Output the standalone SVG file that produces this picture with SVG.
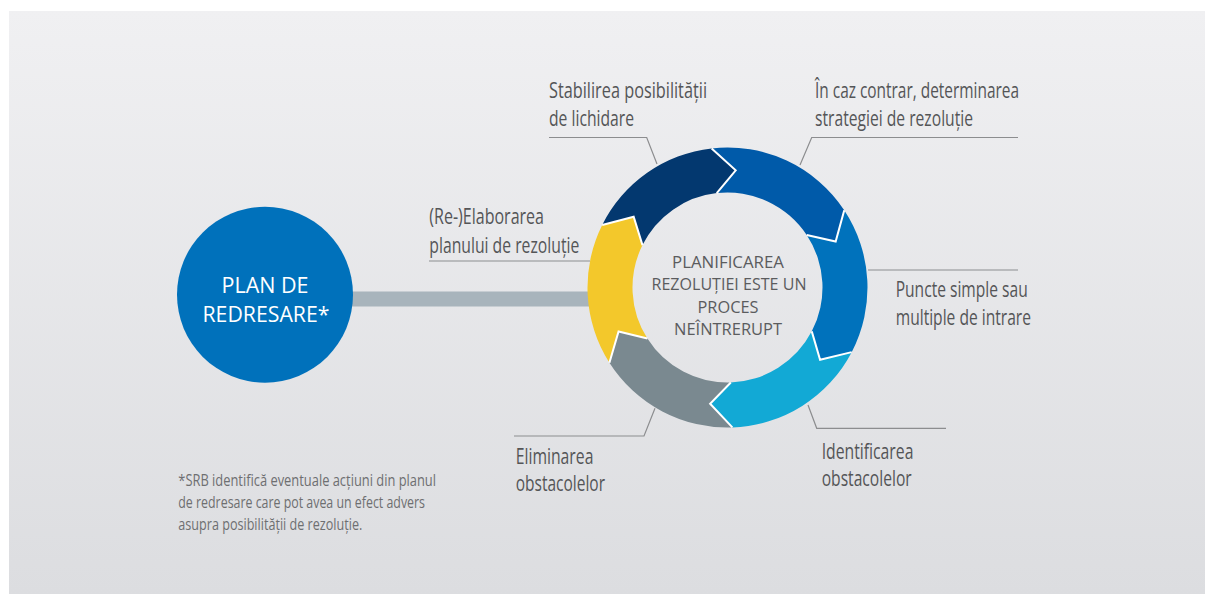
<svg xmlns="http://www.w3.org/2000/svg" width="1205" height="594" viewBox="0 0 1205 594">
<defs>
<linearGradient id="bg" x1="0" y1="0" x2="0" y2="1">
<stop offset="0" stop-color="#f0f0f2"/>
<stop offset="1" stop-color="#dcdde0"/>
</linearGradient>
<style>
.lbl{font-family:"Open Sans","Liberation Sans",sans-serif;font-size:21px;fill:#545557}
.ctr{font-family:"Open Sans","Liberation Sans",sans-serif;font-size:17px;fill:#5b5c5e;text-anchor:middle}
.plan{font-family:"Open Sans","Liberation Sans",sans-serif;font-size:21px;fill:#ffffff;text-anchor:middle}
.note{font-family:"Open Sans","Liberation Sans",sans-serif;font-size:17px;fill:#6e6f71}
.lead{fill:none;stroke:#8c8d8f;stroke-width:1.2}
.sep{fill:none;stroke:#ffffff;stroke-width:2;stroke-linejoin:miter}
</style>
</defs>
<rect x="0" y="0" width="1205" height="594" fill="#ffffff"/>
<rect x="9" y="11" width="1196" height="583" fill="url(#bg)"/>

<g id="connectors">
<rect x="350" y="291.5" width="250" height="15" fill="#a8b4bc"/>
<path class="lead" d="M549 137.5 H646.7 L657 164"/>
<path class="lead" d="M1018 137.5 H811.7 L800 165"/>
<path class="lead" d="M868 270 H1018"/>
<path class="lead" d="M808 405 L816.7 428.3 H946"/>
<path class="lead" d="M655 408.3 L644 436 H514"/>
<path class="lead" d="M429 261 H590"/>
</g>

<g id="plan-redresare">
<circle cx="265" cy="294.7" r="88" fill="#0071bb"/>
<text class="plan" x="265" y="293.3" textLength="87" lengthAdjust="spacingAndGlyphs">PLAN DE</text>
<text class="plan" x="266" y="321.7" textLength="127" lengthAdjust="spacingAndGlyphs">REDRESARE*</text>
</g>

<g id="cycle">
<path id="seg-lichidare" fill="#03386f" d="M 602.21 225.03 A 140 140 0 0 1 711.65 148.40 L 735.70 170.28 L 716.75 193.11 A 95 95 0 0 0 642.48 245.11 L 633.66 216.79 Z"/>
<path id="seg-strategie" fill="#005aa9" d="M 711.65 148.40 A 140 140 0 0 1 844.25 210.23 L 835.66 241.59 L 806.72 235.07 A 95 95 0 0 0 716.75 193.11 L 735.70 170.28 Z"/>
<path id="seg-puncte" fill="#0072bc" d="M 844.25 210.23 A 140 140 0 0 1 851.68 352.14 L 820.09 359.84 L 811.77 331.36 A 95 95 0 0 0 806.72 235.07 L 835.66 241.59 Z"/>
<path id="seg-identificare" fill="#12a9d5" d="M 851.68 352.14 A 140 140 0 0 1 732.39 427.41 L 710.13 403.71 L 730.82 382.44 A 95 95 0 0 0 811.77 331.36 L 820.09 359.84 Z"/>
<path id="seg-eliminare" fill="#7a8990" d="M 732.39 427.41 A 140 140 0 0 1 609.42 362.72 L 618.55 331.52 L 647.38 338.54 A 95 95 0 0 0 730.82 382.44 L 710.13 403.71 Z"/>
<path id="seg-elaborare" fill="#f3c82b" d="M 609.42 362.72 A 140 140 0 0 1 602.21 225.03 L 633.66 216.79 L 642.48 245.11 A 95 95 0 0 0 647.38 338.54 L 618.55 331.52 Z"/>
<polyline class="sep" points="711.65,148.40 735.70,170.28 716.75,193.11"/>
<polyline class="sep" points="844.25,210.23 835.66,241.59 806.72,235.07"/>
<polyline class="sep" points="851.68,352.14 820.09,359.84 811.77,331.36"/>
<polyline class="sep" points="732.39,427.41 710.13,403.71 730.82,382.44"/>
<polyline class="sep" points="609.42,362.72 618.55,331.52 647.38,338.54"/>
<polyline class="sep" points="602.21,225.03 633.66,216.79 642.48,245.11"/>
</g>

<g id="center-text">
<text class="ctr" x="728" y="268" textLength="112" lengthAdjust="spacingAndGlyphs">PLANIFICAREA</text>
<text class="ctr" x="729" y="290" textLength="155" lengthAdjust="spacingAndGlyphs">REZOLUȚIEI ESTE UN</text>
<text class="ctr" x="728" y="312.5" textLength="61" lengthAdjust="spacingAndGlyphs">PROCES</text>
<text class="ctr" x="728" y="335" textLength="108" lengthAdjust="spacingAndGlyphs">NEÎNTRERUPT</text>
</g>

<g id="label-lichidare">
<text class="lbl" x="549" y="98" textLength="158" lengthAdjust="spacingAndGlyphs">Stabilirea posibilității</text>
<text class="lbl" x="549" y="126" textLength="85" lengthAdjust="spacingAndGlyphs">de lichidare</text>
</g>
<g id="label-strategie">
<text class="lbl" x="815" y="98" textLength="204" lengthAdjust="spacingAndGlyphs">În caz contrar, determinarea</text>
<text class="lbl" x="815" y="126" textLength="158" lengthAdjust="spacingAndGlyphs">strategiei de rezoluție</text>
</g>
<g id="label-elaborare">
<text class="lbl" x="429.3" y="224.3" textLength="114.7" lengthAdjust="spacingAndGlyphs">(Re-)Elaborarea</text>
<text class="lbl" x="429.3" y="253.3" textLength="150" lengthAdjust="spacingAndGlyphs">planului de rezoluție</text>
</g>
<g id="label-puncte">
<text class="lbl" x="895.7" y="297.3" textLength="132" lengthAdjust="spacingAndGlyphs">Puncte simple sau</text>
<text class="lbl" x="895.7" y="325" textLength="135.3" lengthAdjust="spacingAndGlyphs">multiple de intrare</text>
</g>
<g id="label-identificare">
<text class="lbl" x="821.7" y="459.3" textLength="91.7" lengthAdjust="spacingAndGlyphs">Identificarea</text>
<text class="lbl" x="821.7" y="486" textLength="90" lengthAdjust="spacingAndGlyphs">obstacolelor</text>
</g>
<g id="label-eliminare">
<text class="lbl" x="515.7" y="464.3" textLength="77.7" lengthAdjust="spacingAndGlyphs">Eliminarea</text>
<text class="lbl" x="515.7" y="490.7" textLength="89.3" lengthAdjust="spacingAndGlyphs">obstacolelor</text>
</g>

<g id="footnote">
<text class="note" x="178.3" y="485.5" textLength="257.7" lengthAdjust="spacingAndGlyphs">*SRB identifică eventuale acțiuni din planul</text>
<text class="note" x="178.3" y="507.5" textLength="246.7" lengthAdjust="spacingAndGlyphs">de redresare care pot avea un efect advers</text>
<text class="note" x="178.3" y="529.5" textLength="184" lengthAdjust="spacingAndGlyphs">asupra posibilității de rezoluție.</text>
</g>
</svg>
